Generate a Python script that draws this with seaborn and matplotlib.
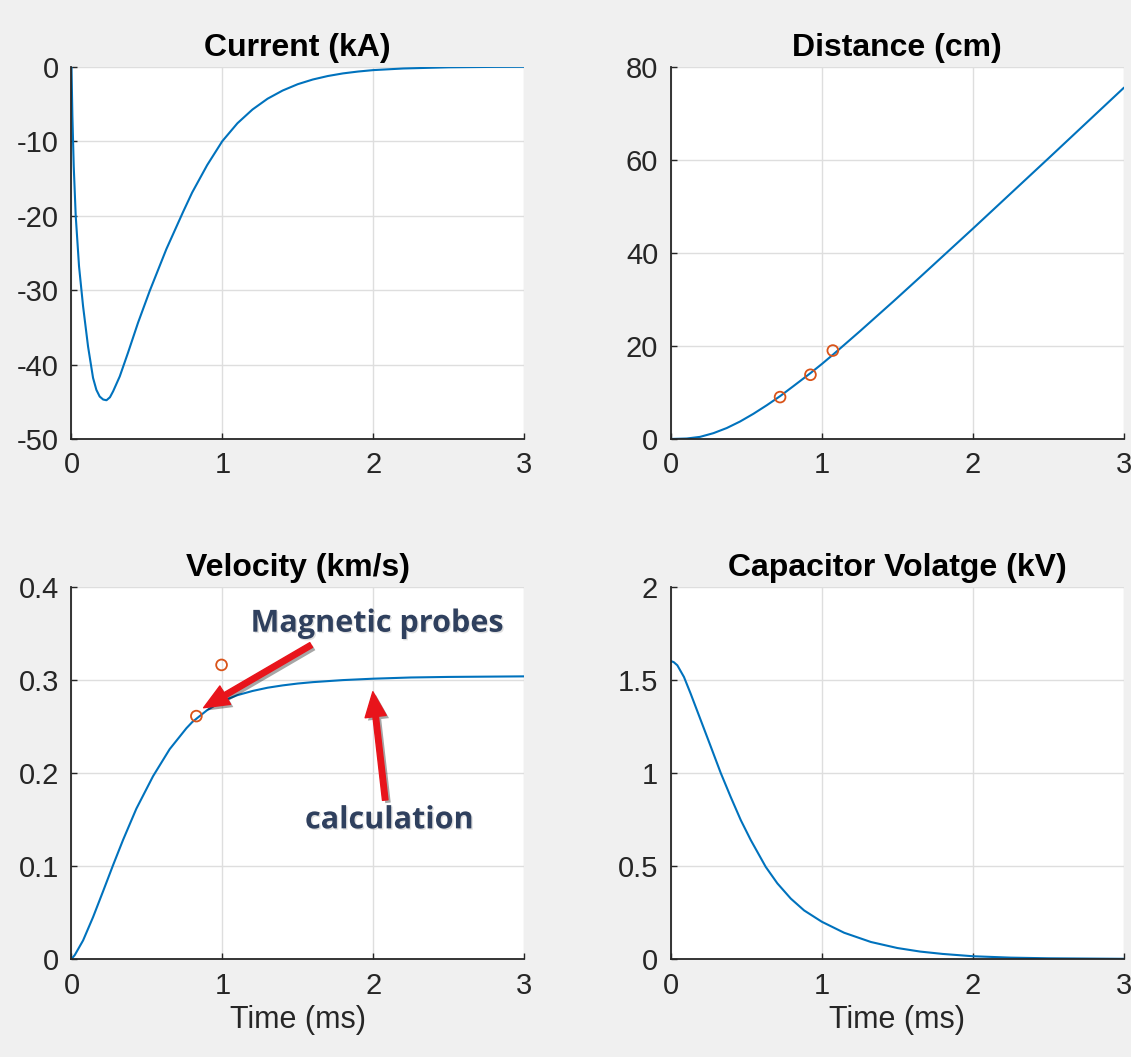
import matplotlib
matplotlib.use("Agg")
import matplotlib.pyplot as plt
import matplotlib.patheffects as pe
from matplotlib.ticker import FuncFormatter
import seaborn as sns

# values (time in ms)
t_current = [0, 0.006, 0.015, 0.028, 0.05, 0.077, 0.11, 0.143, 0.165, 0.187, 0.21, 0.232,
             0.255, 0.276, 0.32, 0.375, 0.441, 0.519, 0.629, 0.74, 0.8, 0.9, 1.0, 1.1,
             1.2, 1.3, 1.4, 1.5, 1.6, 1.7, 1.8, 1.9, 2.0, 2.2, 2.5, 2.8, 3.0]
current_kA = [0, -6.6, -13.4, -20, -26.8, -32.2, -37.6, -41.8, -43.4, -44.3, -44.7, -44.8,
              -44.4, -43.6, -41.6, -38.4, -34.4, -30.1, -24.5, -19.5, -16.9, -13.2, -10.0, -7.6,
              -5.75, -4.3, -3.2, -2.35, -1.72, -1.25, -0.9, -0.65, -0.46, -0.24, -0.08, -0.025, -0.01]

t_distance = [0, 0.106, 0.194, 0.283, 0.371, 0.459, 0.547, 0.636, 0.724, 0.812, 0.923,
              1.0, 1.077, 1.254, 1.475, 1.651, 2.0, 2.5, 3.0]
distance_cm = [0, 0.1, 0.45, 1.25, 2.35, 3.75, 5.4, 7.25, 9.2, 11.35, 14.1,
               16.1, 18.2, 23.2, 29.6, 34.8, 45.2, 60.3, 75.5]
t_probe_d = [0.724, 0.925, 1.073]
probe_d = [9.0, 13.8, 19.0]

t_velocity = [0, 0.022, 0.077, 0.143, 0.21, 0.276, 0.342, 0.43, 0.541, 0.651, 0.762,
              0.8, 0.9, 1.0, 1.1, 1.2, 1.3, 1.4, 1.5, 1.6, 1.8, 2.0, 2.25, 2.5, 3.0]
velocity_kms = [0, 0.0043, 0.020, 0.045, 0.073, 0.101, 0.128, 0.1615, 0.1965, 0.2255, 0.248,
                0.2545, 0.2675, 0.277, 0.2835, 0.288, 0.2915, 0.294, 0.296, 0.2975, 0.2997,
                0.3012, 0.3025, 0.3031, 0.3037]
t_probe_v = [0.828, 0.995]
probe_v = [0.261, 0.316]

t_voltage = [0, 0.02, 0.044, 0.088, 0.132, 0.177, 0.221, 0.265, 0.331, 0.397, 0.464, 0.53,
             0.629, 0.706, 0.795, 0.883, 1.0, 1.148, 1.325, 1.5, 1.651, 1.8, 2.0, 2.25,
             2.5, 3.0]
voltage_kV = [1.601, 1.595, 1.578, 1.515, 1.426, 1.33, 1.236, 1.142, 1.0, 0.871, 0.746, 0.639,
              0.495, 0.4064, 0.3245, 0.2611, 0.2003, 0.1411, 0.0915, 0.0591, 0.04, 0.0273,
              0.0149, 0.0074, 0.0039, 0.0011]

BLUE = "#0072BD"
ORANGE = "#D95319"
ARROW_RED = "#e8141b"
NOTE_BLUE = "#2f405e"

sns.set_theme(style="whitegrid")
plt.rcParams["font.family"] = ["Liberation Sans", "DejaVu Sans"]

fig = plt.figure(figsize=(11.31, 10.57), dpi=100, facecolor="#f0f0f0")
ax_cur = fig.add_axes([0.0632, 0.5847, 0.4001, 0.3522])
ax_dist = fig.add_axes([0.593, 0.5847, 0.4008, 0.3522])
ax_vel = fig.add_axes([0.0632, 0.0927, 0.4001, 0.3522])
ax_volt = fig.add_axes([0.593, 0.0927, 0.4008, 0.3522])


def style(ax, title, ylim, yticks, xlabel=None):
    ax.set_facecolor("white")
    ax.set_xlim(0, 3)
    ax.set_ylim(*ylim)
    ax.set_xticks([0, 1, 2, 3])
    ax.set_yticks(yticks)
    ax.xaxis.set_major_formatter(FuncFormatter(lambda v, p: f"{v:g}"))
    ax.yaxis.set_major_formatter(FuncFormatter(lambda v, p: f"{v:g}"))
    ax.grid(True, color="#dedede", lw=1.0)
    ax.set_axisbelow(True)
    for s in ["top", "right"]:
        ax.spines[s].set_visible(False)
    for s in ["left", "bottom"]:
        ax.spines[s].set_visible(True)
        ax.spines[s].set_color("#262626")
        ax.spines[s].set_linewidth(1.3)
    ax.tick_params(direction="in", length=4, width=1, colors="#262626",
                   labelsize=21, pad=9, bottom=True, left=True)
    ax.set_title(title, fontsize=23, fontweight="bold", pad=8, color="black")
    ax.set_ylabel("")
    ax.set_xlabel(xlabel if xlabel else "", fontsize=22, color="#262626", labelpad=4)


line_kw = dict(color=BLUE, lw=1.5, estimator=None)
probe_kw = dict(marker="o", s=60, facecolor="none", edgecolor=ORANGE, linewidth=1.3, zorder=3)

sns.lineplot(x=t_current, y=current_kA, ax=ax_cur, **line_kw)
style(ax_cur, "Current (kA)", (-50, 0), [-50, -40, -30, -20, -10, 0])

sns.lineplot(x=t_distance, y=distance_cm, ax=ax_dist, **line_kw)
sns.scatterplot(x=t_probe_d, y=probe_d, ax=ax_dist, **probe_kw)
style(ax_dist, "Distance (cm)", (0, 80), [0, 20, 40, 60, 80])

sns.lineplot(x=t_velocity, y=velocity_kms, ax=ax_vel, **line_kw)
sns.scatterplot(x=t_probe_v, y=probe_v, ax=ax_vel, **probe_kw)
style(ax_vel, "Velocity (km/s)", (0, 0.4), [0, 0.1, 0.2, 0.3, 0.4], "Time (ms)")

sns.lineplot(x=t_voltage, y=voltage_kV, ax=ax_volt, **line_kw)
style(ax_volt, "Capacitor Volatge (kV)", (0, 2), [0, 0.5, 1, 1.5, 2], "Time (ms)")

# annotations on the velocity panel
text_fx = [pe.withSimplePatchShadow(offset=(1, -1), shadow_rgbFace="black", alpha=0.12)]
arrow_fx = [pe.withSimplePatchShadow(offset=(2, -2), shadow_rgbFace="black", alpha=0.35)]
ax_vel.text(2.023, 0.3517, "Magnetic probes", ha="center", va="baseline",
            fontsize=22, fontweight="bold", family="Open Sans", color=NOTE_BLUE,
            path_effects=text_fx)
ax_vel.text(2.105, 0.1404, "calculation", ha="center", va="baseline",
            fontsize=22, fontweight="bold", family="Open Sans", color=NOTE_BLUE,
            path_effects=text_fx)
arrow_style = "simple,head_length=1.0,head_width=0.85,tail_width=0.22"
a1 = ax_vel.annotate("", xy=(0.876, 0.270), xytext=(1.589, 0.3374),
                     arrowprops=dict(arrowstyle=arrow_style, mutation_scale=18,
                                     color=ARROW_RED, shrinkA=0, shrinkB=0))
a2 = ax_vel.annotate("", xy=(1.998, 0.2872), xytext=(2.08, 0.1708),
                     arrowprops=dict(arrowstyle=arrow_style, mutation_scale=18,
                                     color=ARROW_RED, shrinkA=0, shrinkB=0))
a1.arrow_patch.set_path_effects(arrow_fx)
a2.arrow_patch.set_path_effects(arrow_fx)

fig.savefig("out.png", dpi=100, facecolor=fig.get_facecolor())
